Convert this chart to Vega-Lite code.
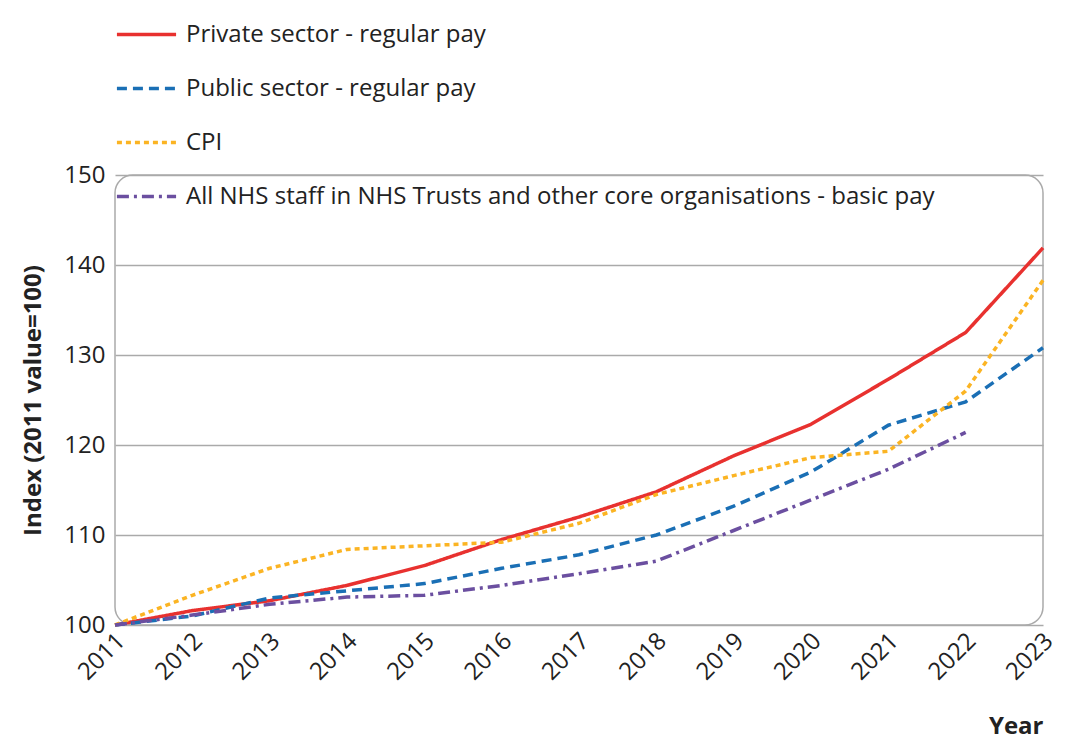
{
  "$schema": "https://vega.github.io/schema/vega-lite/v6.json",
  "width": 928,
  "height": 450,
  "autosize": "none",
  "padding": {"left": 115, "top": 175, "right": 23, "bottom": 125},
  "background": "white",
  "config": {
    "font": "Open Sans",
    "view": {"stroke": "#aaaaaa", "strokeWidth": 1.5, "cornerRadius": 18},
    "axis": {"labelFontSize": 24, "labelColor": "#222", "titleFontSize": 24, "titleColor": "#222", "domain": false, "ticks": false}
  },
  "data": {
    "values": [
      {"year": 2011, "series": "Private sector - regular pay", "v": 100},
      {"year": 2012, "series": "Private sector - regular pay", "v": 101.6},
      {"year": 2013, "series": "Private sector - regular pay", "v": 102.7},
      {"year": 2014, "series": "Private sector - regular pay", "v": 104.4},
      {"year": 2015, "series": "Private sector - regular pay", "v": 106.6},
      {"year": 2016, "series": "Private sector - regular pay", "v": 109.5},
      {"year": 2017, "series": "Private sector - regular pay", "v": 112},
      {"year": 2018, "series": "Private sector - regular pay", "v": 114.8},
      {"year": 2019, "series": "Private sector - regular pay", "v": 118.8},
      {"year": 2020, "series": "Private sector - regular pay", "v": 122.3},
      {"year": 2021, "series": "Private sector - regular pay", "v": 127.3},
      {"year": 2022, "series": "Private sector - regular pay", "v": 132.5},
      {"year": 2023, "series": "Private sector - regular pay", "v": 141.9},
      {"year": 2011, "series": "Public sector - regular pay", "v": 100},
      {"year": 2012, "series": "Public sector - regular pay", "v": 101},
      {"year": 2013, "series": "Public sector - regular pay", "v": 103},
      {"year": 2014, "series": "Public sector - regular pay", "v": 103.8},
      {"year": 2015, "series": "Public sector - regular pay", "v": 104.6},
      {"year": 2016, "series": "Public sector - regular pay", "v": 106.3},
      {"year": 2017, "series": "Public sector - regular pay", "v": 107.8},
      {"year": 2018, "series": "Public sector - regular pay", "v": 110},
      {"year": 2019, "series": "Public sector - regular pay", "v": 113.2},
      {"year": 2020, "series": "Public sector - regular pay", "v": 117},
      {"year": 2021, "series": "Public sector - regular pay", "v": 122.2},
      {"year": 2022, "series": "Public sector - regular pay", "v": 124.8},
      {"year": 2023, "series": "Public sector - regular pay", "v": 130.8},
      {"year": 2011, "series": "CPI", "v": 100},
      {"year": 2012, "series": "CPI", "v": 103.3},
      {"year": 2013, "series": "CPI", "v": 106.3},
      {"year": 2014, "series": "CPI", "v": 108.4},
      {"year": 2015, "series": "CPI", "v": 108.8},
      {"year": 2016, "series": "CPI", "v": 109.2},
      {"year": 2017, "series": "CPI", "v": 111.3},
      {"year": 2018, "series": "CPI", "v": 114.5},
      {"year": 2019, "series": "CPI", "v": 116.6},
      {"year": 2020, "series": "CPI", "v": 118.6},
      {"year": 2021, "series": "CPI", "v": 119.3},
      {"year": 2022, "series": "CPI", "v": 126},
      {"year": 2023, "series": "CPI", "v": 138.3},
      {"year": 2011, "series": "All NHS staff in NHS Trusts and other core organisations - basic pay", "v": 100},
      {"year": 2012, "series": "All NHS staff in NHS Trusts and other core organisations - basic pay", "v": 101.1},
      {"year": 2013, "series": "All NHS staff in NHS Trusts and other core organisations - basic pay", "v": 102.3},
      {"year": 2014, "series": "All NHS staff in NHS Trusts and other core organisations - basic pay", "v": 103.1},
      {"year": 2015, "series": "All NHS staff in NHS Trusts and other core organisations - basic pay", "v": 103.3},
      {"year": 2016, "series": "All NHS staff in NHS Trusts and other core organisations - basic pay", "v": 104.4},
      {"year": 2017, "series": "All NHS staff in NHS Trusts and other core organisations - basic pay", "v": 105.7},
      {"year": 2018, "series": "All NHS staff in NHS Trusts and other core organisations - basic pay", "v": 107.1},
      {"year": 2019, "series": "All NHS staff in NHS Trusts and other core organisations - basic pay", "v": 110.5},
      {"year": 2020, "series": "All NHS staff in NHS Trusts and other core organisations - basic pay", "v": 113.9},
      {"year": 2021, "series": "All NHS staff in NHS Trusts and other core organisations - basic pay", "v": 117.3},
      {"year": 2022, "series": "All NHS staff in NHS Trusts and other core organisations - basic pay", "v": 121.4}
    ]
  },
  "mark": {"type": "line", "strokeWidth": 3.5},
  "encoding": {
    "x": {
      "field": "year", "type": "quantitative",
      "scale": {"domain": [2011, 2023], "nice": false},
      "axis": {"values": [2011,2012,2013,2014,2015,2016,2017,2018,2019,2020,2021,2022,2023], "format": "d", "labelAngle": -45, "grid": false, "labelAlign": "right", "labelBaseline": "middle", "labelOffset": 6, "labelPadding": 12, "title": "Year", "titleAnchor": "end", "titleFontWeight": "bold", "titlePadding": 30}
    },
    "y": {
      "field": "v", "type": "quantitative",
      "scale": {"domain": [100, 150], "nice": false, "zero": false},
      "axis": {"values": [100,110,120,130,140,150], "gridColor": "#aaaaaa", "gridWidth": 1.5, "title": "Index (2011 value=100)", "titleFontWeight": "bold", "titlePadding": 18, "labelPadding": 10, "labelBaseline": "middle"}
    },
    "color": {
      "field": "series", "type": "nominal",
      "scale": {
        "domain": ["Private sector - regular pay", "Public sector - regular pay", "CPI", "All NHS staff in NHS Trusts and other core organisations - basic pay"],
        "range": ["#e8312f", "#1a6fb5", "#fbb423", "#6b4fa0"]
      },
      "legend": {"orient": "none", "legendX": 0, "legendY": -172, "direction": "vertical", "title": null, "labelFontSize": 24, "labelColor": "#222", "labelLimit": 1000, "symbolType": "stroke", "symbolSize": 3500, "symbolStrokeWidth": 3.5, "labelOffset": 8, "rowPadding": 10}
    },
    "strokeDash": {
      "field": "series", "type": "nominal",
      "scale": {
        "domain": ["Private sector - regular pay", "Public sector - regular pay", "CPI", "All NHS staff in NHS Trusts and other core organisations - basic pay"],
        "range": [[1, 0], [10, 6], [5, 4], [12, 5, 3, 5]]
      },
      "legend": null
    }
  }
}
